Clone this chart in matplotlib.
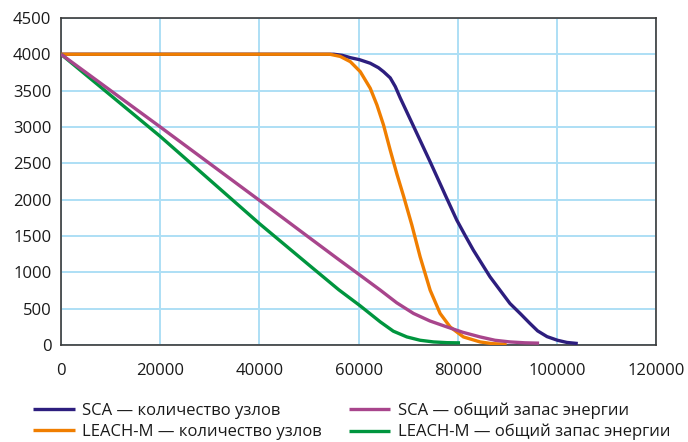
import matplotlib
matplotlib.use("Agg")
import matplotlib.pyplot as plt

plt.rcParams['font.family'] = ['Open Sans', 'DejaVu Sans']

# Data
sca_nodes_x = [0, 20000, 40000, 55000, 56700, 58330, 60200, 62350, 64000, 65030, 66380,
               67400, 68390, 71070, 74430, 76800, 77440, 79800, 81500, 83140,
               86500, 90520, 92700, 94500, 96100, 98000, 100100, 102000, 104200]
sca_nodes_y = [4000, 4000, 4000, 4000, 3985, 3953, 3925, 3876, 3815, 3760, 3675,
               3555, 3400, 3010, 2520, 2165, 2068, 1718, 1505, 1305,
               938, 571, 425, 300, 194, 115, 65, 35, 20]

leach_nodes_x = [0, 20000, 40000, 54200, 56300, 58330, 60340, 62350, 63700, 65030,
                 66380, 67730, 69060, 70740, 72410, 74430, 76440, 78450, 81130,
                 84490, 87000, 89860]
leach_nodes_y = [4000, 4000, 4000, 4000, 3970, 3898, 3760, 3532, 3302, 3026,
                 2680, 2350, 2050, 1650, 1213, 754, 434, 249, 111,
                 42, 18, 10]

sca_energy_x = [0, 10000, 20000, 30000, 40000, 50000, 56000, 60300, 64370, 67700,
                71070, 74400, 77790, 81000, 84490, 87500, 90520, 93500, 96400]
sca_energy_y = [4000, 3500, 3000, 2495, 1990, 1480, 1175, 960, 755, 580,
                434, 330, 249, 175, 111, 65, 42, 30, 25]

leach_energy_x = [0, 10000, 20000, 30000, 40000, 50000, 56000, 60300, 64370, 67000,
                  69730, 72400, 75100, 77800, 80460]
leach_energy_y = [4000, 3435, 2870, 2270, 1670, 1100, 760, 540, 318, 190,
                  111, 65, 42, 32, 29]

series_labels = ['SCA — количество узлов', 'LEACH-M — количество узлов',
                 'SCA — общий запас энергии', 'LEACH-M — общий запас энергии']
series_colors = ['#2D1E7E', '#F07E00', '#A8458C', '#00953E']

x_ticks = [0, 20000, 40000, 60000, 80000, 100000, 120000]
y_ticks = [0, 500, 1000, 1500, 2000, 2500, 3000, 3500, 4000, 4500]

fig = plt.figure(figsize=(6.88, 4.42), dpi=100)
ax = fig.add_axes([0.0887, 0.2195, 0.865, 0.740])

grid_color = '#ADDFF5'
ax.set_xlim(0, 120000)
ax.set_ylim(0, 4500)
ax.set_xticks(x_ticks)
ax.set_yticks(y_ticks)
ax.set_xticklabels([str(v) for v in x_ticks])
ax.set_yticklabels([str(v) for v in y_ticks])
ax.grid(True, color=grid_color, linewidth=1.4)
ax.set_axisbelow(True)
ax.tick_params(length=0, labelsize=12, colors='#1a1a1a')
ax.tick_params(axis='x', pad=13)
ax.tick_params(axis='y', pad=7)
for s in ax.spines.values():
    s.set_color('#3a3a3a')
    s.set_linewidth(1.2)

lw = 2.4
data = [(sca_nodes_x, sca_nodes_y), (leach_nodes_x, leach_nodes_y),
        (sca_energy_x, sca_energy_y), (leach_energy_x, leach_energy_y)]
handles = []
for (xs, ys), lab, col in zip(data, series_labels, series_colors):
    h, = ax.plot(xs, ys, color=col, linewidth=lw, label=lab,
                 solid_joinstyle='round', solid_capstyle='butt', zorder=3)
    handles.append(h)

handles[3].set_zorder(4)
handles[2].set_zorder(5)

leg = fig.legend(handles=handles, labels=series_labels, ncol=2,
                 loc='upper left', bbox_to_anchor=(0.048, 0.089),
                 frameon=False, fontsize=12, handlelength=2.5,
                 handletextpad=0.45, columnspacing=1.6, labelspacing=0.29,
                 borderaxespad=0, borderpad=0)
for t in leg.get_texts():
    t.set_color('#1a1a1a')

fig.savefig('out.png', dpi=100)
